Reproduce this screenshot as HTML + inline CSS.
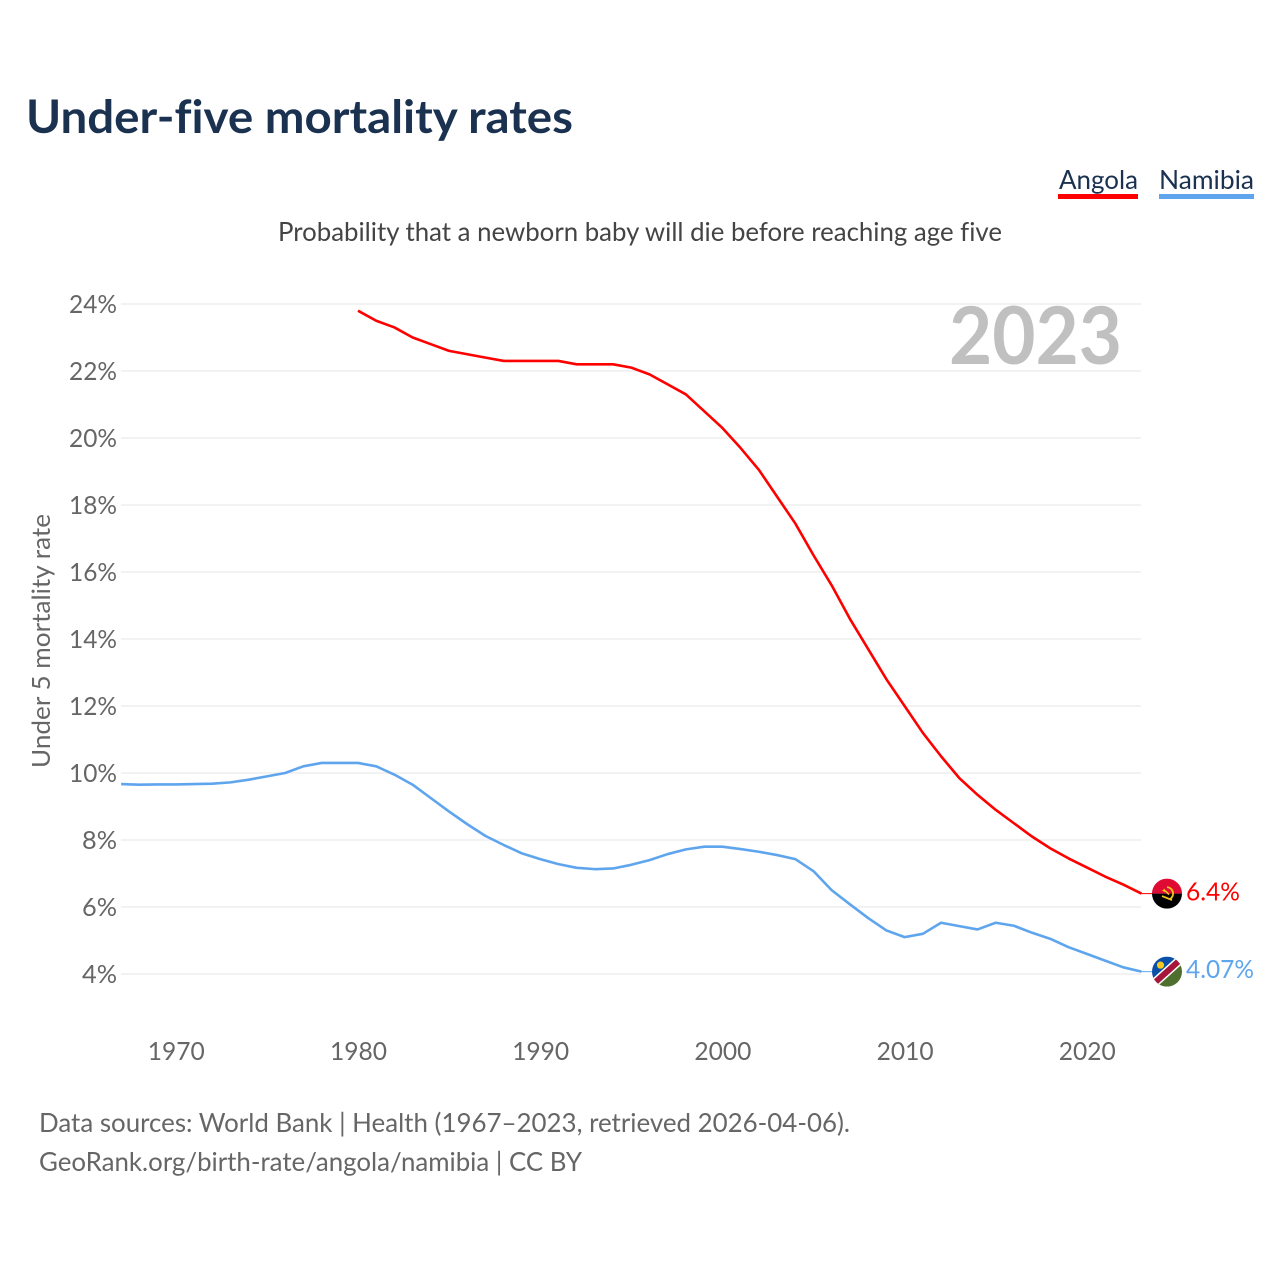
<!DOCTYPE html>
<html lang="en">
<head>
<meta charset="utf-8">
<title>Under-five mortality rates</title>
<style>
html,body{margin:0;padding:0;background:#fff;}
svg{display:block;}
text{font-family:"Lato","Carlito","Liberation Sans",sans-serif;font-variant-ligatures:none;}
</style>
</head>
<body>
<svg id="chart" width="1280" height="1280" viewBox="0 0 1280 1280" xmlns="http://www.w3.org/2000/svg">
  <defs>
    <clipPath id="flag-clip"><circle cx="0" cy="0" r="15"></circle></clipPath>
  </defs>
  <rect x="0" y="0" width="1280" height="1280" fill="#ffffff"></rect>
  <text x="26" y="133" font-size="46" font-weight="700" fill="#1a3150" textLength="547" lengthAdjust="spacingAndGlyphs">Under-five mortality rates</text>

  <g>
    <text x="1059" y="189" font-size="26" fill="#1a3150" textLength="79" lengthAdjust="spacingAndGlyphs">Angola</text>
    <rect x="1058" y="194" width="80" height="5" fill="#ff0000"></rect>
  </g>
  <g>
    <text x="1159" y="189" font-size="26" fill="#1a3150" textLength="95" lengthAdjust="spacingAndGlyphs">Namibia</text>
    <rect x="1159" y="194" width="95" height="5" fill="#5fa5ee"></rect>
  </g>

  <text x="278" y="241" font-size="26" fill="#444444" textLength="724" lengthAdjust="spacingAndGlyphs">Probability that a newborn baby will die before reaching age five</text>

  <g id="grid"></g>
  <g id="y-ticks"></g>
  <g id="x-ticks"></g>

  <text transform="translate(50,641) rotate(-90)" text-anchor="middle" font-size="25" fill="#666666" textLength="254" lengthAdjust="spacingAndGlyphs">Under 5 mortality rate</text>
  <text x="949" y="364" font-size="80" font-weight="700" fill="#c0c0c0" textLength="173" lengthAdjust="spacingAndGlyphs">2023</text>

  <g id="series"></g>

  <g id="flag-angola">
    <g clip-path="url(#flag-clip)">
      <rect x="-15" y="-15" width="30" height="15" fill="#e00b34"></rect>
      <rect x="-15" y="0" width="30" height="15" fill="#000000"></rect>
      <path d="M0,-6.5 A6.5,6.5 0 0 1 3,5.5" fill="none" stroke="#f5c518" stroke-width="1.8"></path>
      <path d="M-5,2.5 L5,6.5" fill="none" stroke="#f5c518" stroke-width="1.8"></path>
      <path d="M-2,-3 L2,1" fill="none" stroke="#f5c518" stroke-width="1.6"></path>
      <path d="M-5,-3 L-2,-5 L-2,-1.5 Z" fill="#f5c518"></path>
    </g>
  </g>
  <g id="flag-namibia">
    <g clip-path="url(#flag-clip)">
      <rect x="-15" y="-15" width="30" height="30" fill="#ffffff"></rect>
      <path d="M-15,-15 L15,-15 L-15,12 Z" fill="#0a4fa8"></path>
      <path d="M15,15 L15,-12 L-15,15 Z" fill="#4f6f2e"></path>
      <path d="M-15,13.5 L15,-13.5" stroke="#ffffff" stroke-width="9"></path>
      <path d="M-15,13.5 L15,-13.5" stroke="#a5163a" stroke-width="6"></path>
      <circle cx="-6.5" cy="-6.5" r="3.6" fill="#f7c81e"></circle>
    </g>
  </g>
  <text id="value-angola" x="1186" font-size="25" fill="#ff0000" textLength="54" lengthAdjust="spacingAndGlyphs"></text>
  <text id="value-namibia" x="1186" font-size="25" fill="#5fa5ee" textLength="68" lengthAdjust="spacingAndGlyphs"></text>

  <g>
    <text x="39" y="1132" font-size="26" fill="#666666" textLength="811" lengthAdjust="spacingAndGlyphs">Data sources: World Bank | Health (1967–2023, retrieved 2026-04-06).</text>
    <text x="39" y="1171" font-size="26" fill="#666666" textLength="543" lengthAdjust="spacingAndGlyphs">GeoRank.org/birth-rate/angola/namibia | CC BY</text>
  </g>
</svg>
<script>
const years = [1967,1968,1969,1970,1971,1972,1973,1974,1975,1976,1977,1978,1979,1980,1981,1982,1983,1984,1985,1986,1987,1988,1989,1990,1991,1992,1993,1994,1995,1996,1997,1998,1999,2000,2001,2002,2003,2004,2005,2006,2007,2008,2009,2010,2011,2012,2013,2014,2015,2016,2017,2018,2019,2020,2021,2022,2023];
const angolaValues = [null,null,null,null,null,null,null,null,null,null,null,null,null,23.8,23.5,23.3,23.0,22.8,22.6,22.5,22.4,22.3,22.3,22.3,22.3,22.2,22.2,22.2,22.1,21.9,21.6,21.3,20.8,20.3,19.7,19.05,18.25,17.45,16.5,15.6,14.6,13.7,12.8,12.0,11.2,10.5,9.85,9.35,8.9,8.5,8.1,7.75,7.45,7.18,6.91,6.67,6.4];
const namibiaValues = [9.67,9.65,9.66,9.66,9.67,9.68,9.72,9.8,9.9,10.0,10.2,10.3,10.3,10.3,10.2,9.95,9.65,9.25,8.85,8.47,8.12,7.85,7.6,7.43,7.28,7.17,7.13,7.15,7.26,7.4,7.58,7.72,7.8,7.8,7.73,7.65,7.55,7.43,7.07,6.5,6.08,5.67,5.3,5.1,5.2,5.53,5.43,5.33,5.53,5.44,5.23,5.05,4.8,4.6,4.4,4.2,4.07];
const yTicks = [4,6,8,10,12,14,16,18,20,22,24];
const xTicks = [1970,1980,1990,2000,2010,2020];
const angolaLabel = "6.4%";
const namibiaLabel = "4.07%";

const SVG_NS = "http://www.w3.org/2000/svg";
function xScale(year){ return 358 + (year - 1980) * 18.22; }
function yScale(value){ return 974 - (value - 4) * 33.5; }
function make(tag, parent, attrs){
  const el = document.createElementNS(SVG_NS, tag);
  for (const k in attrs) el.setAttribute(k, attrs[k]);
  parent.appendChild(el);
  return el;
}
function linePath(values){
  let d = "";
  values.forEach(function(v, i){
    if (v === null) return;
    d += (d ? "L" : "M") + xScale(years[i]).toFixed(2) + "," + yScale(v).toFixed(2);
  });
  return d;
}
function lastValue(values){ return values[values.length - 1]; }

const gridGroup = document.getElementById("grid");
const yTickGroup = document.getElementById("y-ticks");
yTicks.forEach(function(t){
  const line = make("line", gridGroup, {x1:121, x2:1141, y1:yScale(t), y2:yScale(t), stroke:"#e9e9e9", "stroke-width":1.3});
  
  
  const label = make("text", yTickGroup, {x:117, y:yScale(t)+9, "text-anchor":"end", "font-size":25, fill:"#666666", textLength:(String(t).length*13+22), lengthAdjust:"spacingAndGlyphs"});
  
  
  label.textContent = t + "%";
});

const xTickGroup = document.getElementById("x-ticks");
xTicks.forEach(function(t){
  const label = make("text", xTickGroup, {x:xScale(t)+0.5, y:1060, "text-anchor":"middle", "font-size":25, fill:"#666666", textLength:57, lengthAdjust:"spacingAndGlyphs"});
  
  
  label.textContent = t;
});

const seriesGroup = document.getElementById("series");
const angolaLine = make("path", seriesGroup, {d:linePath(angolaValues), fill:"none", stroke:"#ff0000", "stroke-width":2.6, "stroke-linejoin":"round"});


const namibiaLine = make("path", seriesGroup, {d:linePath(namibiaValues), fill:"none", stroke:"#5fa5ee", "stroke-width":2.6, "stroke-linejoin":"round"});



const lastX = xScale(years[years.length - 1]);
const angolaEndY = yScale(lastValue(angolaValues));
const namibiaEndY = yScale(lastValue(namibiaValues));
const angolaLeader = make("line", seriesGroup, {x1:lastX, x2:1153, y1:angolaEndY, y2:angolaEndY, stroke:"#ff0000", "stroke-width":1});


const namibiaLeader = make("line", seriesGroup, {x1:lastX, x2:1153, y1:namibiaEndY, y2:namibiaEndY, stroke:"#5fa5ee", "stroke-width":1});



document.getElementById("flag-angola").setAttribute("transform", "translate(1167," + angolaEndY + ")");
document.getElementById("flag-namibia").setAttribute("transform", "translate(1167," + namibiaEndY + ")");
const angolaValueText = document.getElementById("value-angola");
angolaValueText.setAttribute("y", angolaEndY + 7);
angolaValueText.textContent = angolaLabel;
const namibiaValueText = document.getElementById("value-namibia");
namibiaValueText.setAttribute("y", namibiaEndY + 6.5);
namibiaValueText.textContent = namibiaLabel;
</script>
</body>
</html>
